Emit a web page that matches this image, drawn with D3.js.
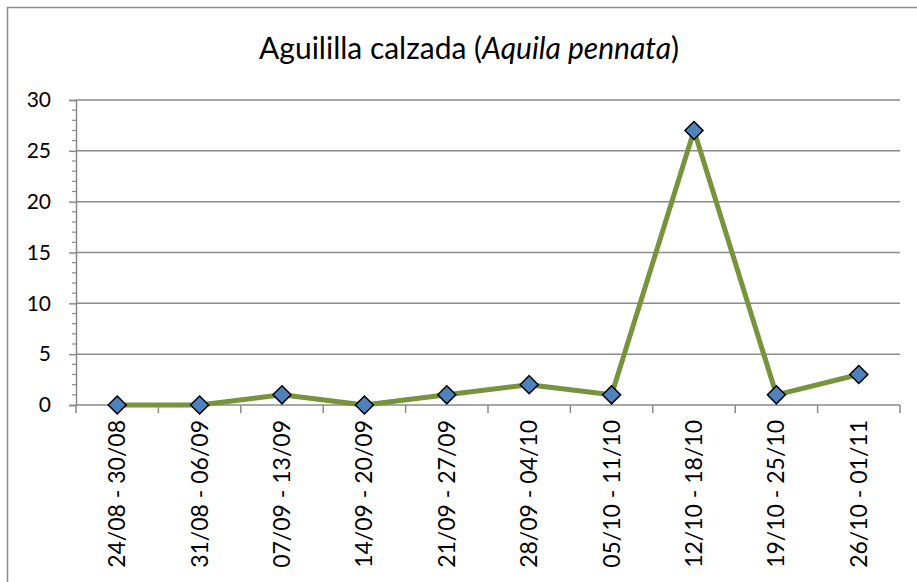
<!DOCTYPE html>
<html>
<head>
<meta charset="utf-8">
<script src="https://cdn.jsdelivr.net/npm/d3@7"></script>
<style>
  body { margin: 0; background: #fff; }
  svg { display: block; font-family: Lato, "Open Sans", sans-serif; }
</style>
</head>
<body>
<div id="chart"></div>
<script>
// datos
const semanas = ["24/08 - 30/08", "31/08 - 06/09", "07/09 - 13/09", "14/09 - 20/09",
  "21/09 - 27/09", "28/09 - 04/10", "05/10 - 11/10", "12/10 - 18/10",
  "19/10 - 25/10", "26/10 - 01/11"];
const aves = [0, 0, 1, 0, 1, 2, 1, 27, 1, 3];
const yTicks = [0, 5, 10, 15, 20, 25, 30];

const W = 917, H = 582;
const margin = { top: 100, right: 17, bottom: 177, left: 76 };
const width = W - margin.left - margin.right;
const height = H - margin.top - margin.bottom;

const svgRoot = d3.select("#chart").append("svg")
  .attr("width", W)
  .attr("height", H);

// marco exterior
svgRoot.append("rect")
  .attr("x", 7.5).attr("y", 7.5)
  .attr("width", W + 10).attr("height", H + 10)
  .attr("fill", "none")
  .attr("stroke", "#8c8c8c")
  .attr("stroke-width", 1.5);

// titulo
const title = svgRoot.append("text")
  .attr("x", 469).attr("y", 59)
  .attr("text-anchor", "middle")
  .style("font-size", "30px")
  .attr("fill", "#000");
title.append("tspan").text("Aguililla calzada (");
title.append("tspan").style("font-style", "italic").text("Aquila pennata");
title.append("tspan").text(")");

const svg = svgRoot.append("g")
  .attr("transform", `translate(${margin.left},${margin.top})`);

const x = d3.scaleBand().domain(semanas).range([0, width]);
const y = d3.scaleLinear().domain([0, 30]).range([height, 0]);

// lineas de la rejilla
svg.selectAll(".grid")
  .data(yTicks.filter(d => d > 0))
  .enter().append("line")
  .attr("x1", 0).attr("x2", width)
  .attr("y1", d => y(d)).attr("y2", d => y(d))
  .attr("stroke", "#8a8a8a")
  .attr("stroke-width", 1.5);

// marcas menores del eje y
svg.selectAll(".minor")
  .data(d3.range(0, 31).filter(d => d % 5 !== 0))
  .enter().append("line")
  .attr("x1", -4).attr("x2", 0)
  .attr("y1", d => y(d)).attr("y2", d => y(d))
  .attr("stroke", "#8a8a8a")
  .attr("stroke-width", 1.2);

// eje y
const yAxis = svg.append("g")
  .call(d3.axisLeft(y).tickValues(yTicks).tickSize(7).tickPadding(18));
yAxis.select(".domain").attr("stroke", "#8a8a8a").attr("stroke-width", 1.5);
yAxis.selectAll(".tick line").attr("stroke", "#8a8a8a").attr("stroke-width", 1.5);
yAxis.selectAll(".tick text")
  .style("font-size", "21px")
  .style("font-family", "Lato, 'Open Sans', sans-serif")
  .attr("fill", "#000");

// eje x
svg.append("line")
  .attr("x1", 0).attr("x2", width)
  .attr("y1", height).attr("y2", height)
  .attr("stroke", "#8a8a8a").attr("stroke-width", 1.5);

const bordes = semanas.map(d => x(d)).concat([width]);
svg.selectAll(".xtick")
  .data(bordes)
  .enter().append("line")
  .attr("x1", d => d).attr("x2", d => d)
  .attr("y1", height).attr("y2", height + 8)
  .attr("stroke", "#8a8a8a").attr("stroke-width", 1.5);

svg.selectAll(".xlabel")
  .data(semanas)
  .enter().append("text")
  .attr("transform", d => `translate(${x(d) + x.bandwidth() / 2 + 8},${height + 15}) rotate(-90)`)
  .attr("text-anchor", "end")
  .style("font-size", "23px")
  .attr("fill", "#000")
  .text(d => d);

// linea
const line = d3.line()
  .x((d, i) => x(semanas[i]) + x.bandwidth() / 2)
  .y(d => y(d));

svg.append("path")
  .datum(aves)
  .attr("fill", "none")
  .attr("stroke", "#77933c")
  .attr("stroke-width", 5)
  .attr("stroke-linejoin", "round")
  .attr("d", line);

// marcadores rombo
svg.selectAll(".punto")
  .data(aves)
  .enter().append("path")
  .attr("transform", (d, i) => `translate(${x(semanas[i]) + x.bandwidth() / 2},${y(d)})`)
  .attr("d", "M0,-9L9,0L0,9L-9,0Z")
  .attr("fill", "#4f81bd")
  .attr("stroke", "#000")
  .attr("stroke-width", 1.5);
</script>
</body>
</html>
